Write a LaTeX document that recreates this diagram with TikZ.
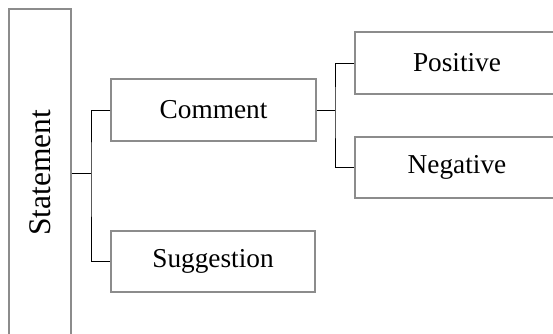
\documentclass[tikz,border=0pt]{standalone}
\usepackage{fontspec}
\setmainfont{Liberation Serif}
\usetikzlibrary{positioning}

\begin{document}
\begin{tikzpicture}[x=1pt,y=-1pt,
    box/.style={draw=gray!90,line width=1.1pt,rectangle,inner sep=0pt,
      font=\fontsize{27.3}{30}\selectfont},
    link/.style={draw=black,line width=1pt}]
    \clip (0,0) rectangle (553,333);
    \node[box,minimum width=62pt,minimum height=328pt] (stmt) at (40,173) {};
    \node[rotate=90,font=\fontsize{31.5}{34}\selectfont] at (stmt.center) {Statement};
    \node[box,minimum width=205pt,minimum height=62pt] (comment) at (213.5,110) {Comment};
    \node[box,minimum width=204pt,minimum height=61pt] (sugg) at (213,261.5) {Suggestion};
    \node[box,minimum width=204pt,minimum height=62pt] (pos) at (457,63) {Positive};
    \node[box,minimum width=204pt,minimum height=61pt] (neg) at (457,167.5) {Negative};
    % elbows
    \coordinate (j1) at (91,173);
    \coordinate (j2) at (335,110);
    \draw[link] (stmt.east |- j1) -- (j1);
    \draw[link] (comment.west) -| (j1) |- (sugg.west);
    \draw[link] (comment.east) -- (j2);
    \draw[link] (pos.west) -| (j2) |- (neg.west);
\end{tikzpicture}
\end{document}
